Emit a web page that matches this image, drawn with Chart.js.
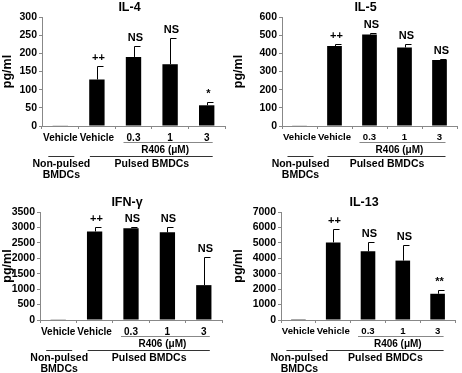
<!DOCTYPE html>
<html>
<head>
<meta charset="utf-8">
<script src="https://cdn.jsdelivr.net/npm/chart.js@4.4.0/dist/chart.umd.min.js"></script>
<style>
  html, body { margin: 0; padding: 0; background: #fff; }
  #wrap { position: relative; width: 462px; height: 373px; overflow: hidden; }
  canvas { position: absolute; }
</style>
</head>
<body>
<div id="wrap">
  <canvas id="c1" width="231" height="186" style="left:0;top:0"></canvas>
  <canvas id="c2" width="231" height="186" style="left:231px;top:0"></canvas>
  <canvas id="c3" width="231" height="187" style="left:0;top:186px"></canvas>
  <canvas id="c4" width="231" height="187" style="left:231px;top:186px"></canvas>
</div>
<script>
// categories shared by all four panels
const categories = ['Vehicle', 'Vehicle', '0.3', '1', '3'];

// IL-4
const il4Values = [1, 128, 190, 170, 57];
const il4Errors = [0, 36, 30, 71, 10];
const il4Marks = ['', '++', 'NS', 'NS', '*'];

// IL-5
const il5Values = [2, 440, 503, 432, 363];
const il5Errors = [0, 12, 10, 22, 8];
const il5Marks = ['', '++', 'NS', 'NS', 'NS'];

// IFN-gamma
const ifnValues = [10, 2870, 2975, 2840, 1130];
const ifnErrors = [0, 150, 30, 170, 900];
const ifnMarks = ['', '++', 'NS', 'NS', 'NS'];

// IL-13
const il13Values = [10, 5030, 4450, 3850, 1700];
const il13Errors = [0, 870, 600, 1030, 260];
const il13Marks = ['', '++', 'NS', 'NS', '**'];

const FONT = 'Arial, "Liberation Sans", sans-serif';

// error bars (upward only), significance marks, title and group labels
const extras = {
    id: 'extras',
    afterDatasetsDraw(chart, args, opts) {
        const ctx = chart.ctx;
        const ys = chart.scales.y;
        const meta = chart.getDatasetMeta(0);
        ctx.save();
        ctx.strokeStyle = '#000';
        ctx.lineWidth = 1;
        meta.data.forEach((bar, i) => {
            const v = opts.values[i], e = opts.errors[i];
            const x = Math.round(bar.x) + 0.5;
            const yTop = Math.round(ys.getPixelForValue(v + e)) + 0.5;
            if (e > 0) {
                ctx.beginPath();
                ctx.moveTo(x, ys.getPixelForValue(v));
                ctx.lineTo(x, yTop);
                ctx.lineTo(x + 6, yTop);
                ctx.stroke();
            }
            if (opts.marks[i]) {
                ctx.fillStyle = '#000';
                ctx.font = 'bold 11px ' + FONT;
                ctx.textAlign = 'center';
                ctx.textBaseline = 'alphabetic';
                ctx.fillText(opts.marks[i], x + 1, yTop - 6);
            }
        });
        ctx.restore();
    },
    afterDraw(chart, args, opts) {
        const ctx = chart.ctx;
        const xs = chart.scales.x;
        const area = chart.chartArea;
        const b = area.bottom;
        const px = i => xs.getPixelForValue(i);
        ctx.save();
        ctx.fillStyle = '#000';
        ctx.textAlign = 'center';
        ctx.textBaseline = 'middle';

        // title
        ctx.font = 'bold 12.5px ' + FONT;
        ctx.fillText(opts.title, (area.left + area.right) / 2 - 4, area.top - 9);

        // R406 bracket
        ctx.strokeStyle = '#888';
        ctx.lineWidth = 1;
        let l = px(2) - 10, r = px(4) + 6;
        ctx.beginPath();
        ctx.moveTo(l, b + 16.5);
        ctx.lineTo(r, b + 16.5);
        ctx.stroke();
        ctx.font = 'bold 10px ' + FONT;
        ctx.fillText('R406 (\u03bcM)', (l + r) / 2 - 3, b + 24);

        // group lines
        ctx.strokeStyle = '#333';
        ctx.beginPath();
        ctx.moveTo(px(0) - 12, b + 30.5);
        ctx.lineTo(px(0) + 14, b + 30.5);
        ctx.moveTo(px(1) - 7, b + 30.5);
        ctx.lineTo(px(4) + 6, b + 30.5);
        ctx.stroke();

        ctx.font = 'bold 10.5px ' + FONT;
        ctx.fillText('Non-pulsed', px(0) + 1, b + 38);
        ctx.fillText('BMDCs', px(0) + 1, b + 49);
        ctx.fillText('Pulsed BMDCs', (px(1) + px(4)) / 2, b + 38);
        ctx.restore();
    }
};

function makePanel(id, title, values, errors, marks, yMax, step, yWidth, xHeight, padRight, padTop, xFont) {
    new Chart(document.getElementById(id), {
        type: 'bar',
        data: {
            labels: categories,
            datasets: [{
                data: values,
                backgroundColor: '#000',
                borderWidth: 0,
                barPercentage: 0.42,
                categoryPercentage: 1.0
            }]
        },
        options: {
            responsive: false,
            animation: false,
            layout: { padding: { top: padTop, right: padRight, left: 0, bottom: 0 } },
            plugins: {
                legend: { display: false },
                tooltip: { enabled: false },
                extras: { title: title, values: values, errors: errors, marks: marks }
            },
            scales: {
                x: {
                    grid: { drawOnChartArea: false, drawTicks: true, tickLength: 3, color: '#888' },
                    border: { display: true, color: '#888' },
                    ticks: {
                        color: '#000', font: { family: FONT, size: xFont, weight: 'bold' },
                        maxRotation: 0, minRotation: 0, autoSkip: false, padding: 3
                    },
                    afterFit(s) { s.height = xHeight; }
                },
                y: {
                    min: 0, max: yMax,
                    grid: { drawOnChartArea: false, drawTicks: true, tickLength: 3, color: '#888' },
                    border: { display: true, color: '#888' },
                    ticks: {
                        stepSize: step, color: '#000', padding: 2, autoSkip: false,
                        callback: v => String(v),
                        font: { family: FONT, size: 10.5, weight: 'bold' }
                    },
                    title: {
                        display: true, text: 'pg/ml', color: '#000', padding: 0,
                        font: { family: FONT, size: 12.5, weight: 'bold' }
                    },
                    afterFit(s) { s.width = yWidth; }
                }
            }
        },
        plugins: [extras]
    });
}

makePanel('c1', 'IL-4', il4Values, il4Errors, il4Marks, 300, 50, 42, 60, 6, 17, 10);
makePanel('c2', 'IL-5', il5Values, il5Errors, il5Marks, 600, 100, 51, 60, 5, 17, 9.6);
makePanel('c3', 'IFN-\u03b3', ifnValues, ifnErrors, ifnMarks, 3500, 500, 40, 53, 9, 26, 10);
makePanel('c4', 'IL-13', il13Values, il13Errors, il13Marks, 7000, 1000, 50, 53, 7, 26, 9.6);
</script>
</body>
</html>
